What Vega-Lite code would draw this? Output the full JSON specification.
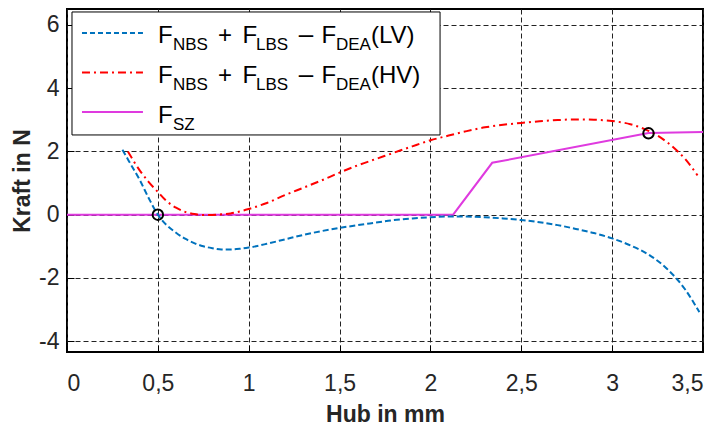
{
  "$schema": "https://vega.github.io/schema/vega-lite/v6.json",
  "width": 636,
  "height": 343,
  "autosize": "none",
  "padding": {"left": 67, "top": 9, "right": 21, "bottom": 76},
  "background": "white",
  "config": {
    "view": {"stroke": "black", "strokeWidth": 2},
    "font": "Liberation Sans",
    "axis": {
      "domain": false,
      "grid": true,
      "gridColor": "#222222",
      "gridDash": [5, 3],
      "gridWidth": 1,
      "gridOpacity": 1,
      "ticks": true,
      "tickSize": -7,
      "tickColor": "black",
      "tickWidth": 1,
      "labelFont": "Liberation Sans",
      "labelFontSize": 23,
      "labelColor": "#262626",
      "titleFont": "Liberation Sans",
      "titleFontSize": 23,
      "titleFontWeight": "bold",
      "titleColor": "#262626"
    }
  },
  "datasets": {
    "curves": [
      {"hub": 0.305, "kraft": 2.05, "series": "LV"},
      {"hub": 0.35, "kraft": 1.6, "series": "LV"},
      {"hub": 0.4, "kraft": 1.1, "series": "LV"},
      {"hub": 0.45, "kraft": 0.52, "series": "LV"},
      {"hub": 0.5, "kraft": 0.0, "series": "LV"},
      {"hub": 0.55, "kraft": -0.34, "series": "LV"},
      {"hub": 0.6, "kraft": -0.57, "series": "LV"},
      {"hub": 0.65, "kraft": -0.76, "series": "LV"},
      {"hub": 0.7, "kraft": -0.9, "series": "LV"},
      {"hub": 0.75, "kraft": -1.0, "series": "LV"},
      {"hub": 0.8, "kraft": -1.06, "series": "LV"},
      {"hub": 0.85, "kraft": -1.1, "series": "LV"},
      {"hub": 0.9, "kraft": -1.1, "series": "LV"},
      {"hub": 0.95, "kraft": -1.08, "series": "LV"},
      {"hub": 1.0, "kraft": -1.04, "series": "LV"},
      {"hub": 1.1, "kraft": -0.92, "series": "LV"},
      {"hub": 1.2, "kraft": -0.78, "series": "LV"},
      {"hub": 1.3, "kraft": -0.64, "series": "LV"},
      {"hub": 1.4, "kraft": -0.52, "series": "LV"},
      {"hub": 1.5, "kraft": -0.42, "series": "LV"},
      {"hub": 1.6, "kraft": -0.33, "series": "LV"},
      {"hub": 1.7, "kraft": -0.25, "series": "LV"},
      {"hub": 1.8, "kraft": -0.17, "series": "LV"},
      {"hub": 1.9, "kraft": -0.12, "series": "LV"},
      {"hub": 2.0, "kraft": -0.08, "series": "LV"},
      {"hub": 2.1, "kraft": -0.06, "series": "LV"},
      {"hub": 2.2, "kraft": -0.06, "series": "LV"},
      {"hub": 2.3, "kraft": -0.08, "series": "LV"},
      {"hub": 2.4, "kraft": -0.12, "series": "LV"},
      {"hub": 2.5, "kraft": -0.17, "series": "LV"},
      {"hub": 2.6, "kraft": -0.24, "series": "LV"},
      {"hub": 2.7, "kraft": -0.33, "series": "LV"},
      {"hub": 2.8, "kraft": -0.45, "series": "LV"},
      {"hub": 2.9, "kraft": -0.58, "series": "LV"},
      {"hub": 3.0, "kraft": -0.75, "series": "LV"},
      {"hub": 3.1, "kraft": -0.97, "series": "LV"},
      {"hub": 3.2, "kraft": -1.26, "series": "LV"},
      {"hub": 3.3, "kraft": -1.7, "series": "LV"},
      {"hub": 3.4, "kraft": -2.35, "series": "LV"},
      {"hub": 3.48, "kraft": -3.08, "series": "LV"},
      {"hub": 0.335, "kraft": 2.0, "series": "HV"},
      {"hub": 0.4, "kraft": 1.4, "series": "HV"},
      {"hub": 0.45, "kraft": 1.03, "series": "HV"},
      {"hub": 0.5, "kraft": 0.72, "series": "HV"},
      {"hub": 0.55, "kraft": 0.42, "series": "HV"},
      {"hub": 0.6, "kraft": 0.22, "series": "HV"},
      {"hub": 0.65, "kraft": 0.09, "series": "HV"},
      {"hub": 0.7, "kraft": 0.02, "series": "HV"},
      {"hub": 0.75, "kraft": -0.01, "series": "HV"},
      {"hub": 0.8, "kraft": -0.01, "series": "HV"},
      {"hub": 0.85, "kraft": 0.01, "series": "HV"},
      {"hub": 0.9, "kraft": 0.04, "series": "HV"},
      {"hub": 0.95, "kraft": 0.1, "series": "HV"},
      {"hub": 1.0, "kraft": 0.18, "series": "HV"},
      {"hub": 1.1, "kraft": 0.37, "series": "HV"},
      {"hub": 1.2, "kraft": 0.62, "series": "HV"},
      {"hub": 1.3, "kraft": 0.85, "series": "HV"},
      {"hub": 1.4, "kraft": 1.08, "series": "HV"},
      {"hub": 1.5, "kraft": 1.33, "series": "HV"},
      {"hub": 1.6, "kraft": 1.56, "series": "HV"},
      {"hub": 1.7, "kraft": 1.76, "series": "HV"},
      {"hub": 1.8, "kraft": 1.96, "series": "HV"},
      {"hub": 1.9, "kraft": 2.16, "series": "HV"},
      {"hub": 2.0, "kraft": 2.35, "series": "HV"},
      {"hub": 2.1, "kraft": 2.5, "series": "HV"},
      {"hub": 2.2, "kraft": 2.64, "series": "HV"},
      {"hub": 2.3, "kraft": 2.76, "series": "HV"},
      {"hub": 2.4, "kraft": 2.84, "series": "HV"},
      {"hub": 2.5, "kraft": 2.9, "series": "HV"},
      {"hub": 2.6, "kraft": 2.95, "series": "HV"},
      {"hub": 2.7, "kraft": 2.99, "series": "HV"},
      {"hub": 2.8, "kraft": 3.01, "series": "HV"},
      {"hub": 2.9, "kraft": 3.0, "series": "HV"},
      {"hub": 3.0, "kraft": 2.96, "series": "HV"},
      {"hub": 3.1, "kraft": 2.86, "series": "HV"},
      {"hub": 3.2, "kraft": 2.65, "series": "HV"},
      {"hub": 3.25, "kraft": 2.5, "series": "HV"},
      {"hub": 3.3, "kraft": 2.3, "series": "HV"},
      {"hub": 3.35, "kraft": 2.06, "series": "HV"},
      {"hub": 3.4, "kraft": 1.77, "series": "HV"},
      {"hub": 3.47, "kraft": 1.24, "series": "HV"},
      {"hub": 0.0, "kraft": 0.0, "series": "SZ"},
      {"hub": 2.125, "kraft": 0.0, "series": "SZ"},
      {"hub": 2.34, "kraft": 1.64, "series": "SZ"},
      {"hub": 3.2, "kraft": 2.58, "series": "SZ"},
      {"hub": 3.5, "kraft": 2.61, "series": "SZ"}
    ],
    "markers": [{"hub": 0.5, "kraft": 0.0}, {"hub": 3.2, "kraft": 2.57}]
  },
  "layer": [
    {
      "data": {"name": "curves"},
      "transform": [{"filter": "datum.series === 'SZ'"}],
      "mark": {"type": "line", "color": "#DF3ADF", "strokeWidth": 2},
      "encoding": {
        "x": {
          "field": "hub", "type": "quantitative",
          "scale": {"domain": [0, 3.5], "nice": false, "zero": false},
          "axis": {
            "title": "Hub in mm",
            "values": [0, 0.5, 1, 1.5, 2, 2.5, 3, 3.5],
            "labelExpr": "replace(toString(datum.value), '.', ',')",
            "labelPadding": 27,
            "titlePadding": 8
          }
        },
        "y": {
          "field": "kraft", "type": "quantitative",
          "scale": {"domain": [-4.34, 6.5], "nice": false, "zero": false},
          "axis": {
            "title": "Kraft in N",
            "values": [-4, -2, 0, 2, 4, 6],
            "labelExpr": "toString(datum.value)",
            "labelPadding": 15,
            "titlePadding": 4
          }
        }
      }
    },
    {
      "data": {"name": "curves"},
      "transform": [{"filter": "datum.series === 'LV'"}],
      "mark": {"type": "line", "color": "#0072BD", "strokeWidth": 2, "strokeDash": [6, 3], "interpolate": "monotone"},
      "encoding": {
        "x": {"field": "hub", "type": "quantitative"},
        "y": {"field": "kraft", "type": "quantitative"}
      }
    },
    {
      "data": {"name": "curves"},
      "transform": [{"filter": "datum.series === 'HV'"}],
      "mark": {"type": "line", "color": "#FF0000", "strokeWidth": 2, "strokeDash": [8, 4, 2, 4], "interpolate": "monotone"},
      "encoding": {
        "x": {"field": "hub", "type": "quantitative"},
        "y": {"field": "kraft", "type": "quantitative"}
      }
    },
    {
      "data": {"name": "markers"},
      "mark": {"type": "point", "shape": "circle", "filled": false, "color": "black", "strokeWidth": 2, "size": 110, "opacity": 1},
      "encoding": {
        "x": {"field": "hub", "type": "quantitative"},
        "y": {"field": "kraft", "type": "quantitative"}
      }
    },
    {
      "data": {"values": [{"item": "legend box"}]},
      "mark": {"type": "rect", "fill": "white", "stroke": "black", "strokeWidth": 1},
      "encoding": {
        "x": {"datum": 0.0275}, "x2": {"datum": 2.053},
        "y": {"datum": 6.406}, "y2": {"datum": 2.519}
      }
    },
    {
      "data": {"values": [{"item": "LV symbol"}]},
      "mark": {"type": "rule", "color": "#0072BD", "strokeWidth": 2, "strokeDash": [5, 3]},
      "encoding": {"x": {"datum": 0.0825}, "x2": {"datum": 0.418}, "y": {"datum": 5.743}}
    },
    {
      "data": {"values": [{"item": "HV symbol"}]},
      "mark": {"type": "rule", "color": "#FF0000", "strokeWidth": 2, "strokeDash": [8, 4, 2, 4]},
      "encoding": {"x": {"datum": 0.0825}, "x2": {"datum": 0.418}, "y": {"datum": 4.494}}
    },
    {
      "data": {"values": [{"item": "SZ symbol"}]},
      "mark": {"type": "rule", "color": "#DF3ADF", "strokeWidth": 2},
      "encoding": {"x": {"datum": 0.0825}, "x2": {"datum": 0.418}, "y": {"datum": 3.246}}
    },
    {
      "data": {"values": [{"t": "F"}]},
      "mark": {"type": "text", "fontSize": 24, "align": "left", "baseline": "alphabetic", "color": "black"},
      "encoding": {"text": {"field": "t"}, "x": {"datum": 0.501}, "y": {"datum": 5.417}}
    },
    {
      "data": {"values": [{"t": "NBS"}]},
      "mark": {"type": "text", "fontSize": 17, "align": "left", "baseline": "alphabetic", "color": "black"},
      "encoding": {"text": {"field": "t"}, "x": {"datum": 0.583}, "y": {"datum": 5.205}}
    },
    {
      "data": {"values": [{"t": "+"}]},
      "mark": {"type": "text", "fontSize": 24, "align": "center", "baseline": "alphabetic", "color": "black"},
      "encoding": {"text": {"field": "t"}, "x": {"datum": 0.87}, "y": {"datum": 5.417}}
    },
    {
      "data": {"values": [{"t": "F"}]},
      "mark": {"type": "text", "fontSize": 24, "align": "left", "baseline": "alphabetic", "color": "black"},
      "encoding": {"text": {"field": "t"}, "x": {"datum": 0.966}, "y": {"datum": 5.417}}
    },
    {
      "data": {"values": [{"t": "LBS"}]},
      "mark": {"type": "text", "fontSize": 17, "align": "left", "baseline": "alphabetic", "color": "black"},
      "encoding": {"text": {"field": "t"}, "x": {"datum": 1.04}, "y": {"datum": 5.205}}
    },
    {
      "data": {"values": [{"t": "–"}]},
      "mark": {"type": "text", "fontSize": 26, "align": "center", "baseline": "alphabetic", "color": "black"},
      "encoding": {"text": {"field": "t"}, "x": {"datum": 1.315}, "y": {"datum": 5.417}}
    },
    {
      "data": {"values": [{"t": "F"}]},
      "mark": {"type": "text", "fontSize": 24, "align": "left", "baseline": "alphabetic", "color": "black"},
      "encoding": {"text": {"field": "t"}, "x": {"datum": 1.401}, "y": {"datum": 5.417}}
    },
    {
      "data": {"values": [{"t": "DEA"}]},
      "mark": {"type": "text", "fontSize": 17, "align": "left", "baseline": "alphabetic", "color": "black"},
      "encoding": {"text": {"field": "t"}, "x": {"datum": 1.48}, "y": {"datum": 5.205}}
    },
    {
      "data": {"values": [{"t": "(LV)"}]},
      "mark": {"type": "text", "fontSize": 24, "align": "left", "baseline": "alphabetic", "color": "black"},
      "encoding": {"text": {"field": "t"}, "x": {"datum": 1.673}, "y": {"datum": 5.417}}
    },
    {
      "data": {"values": [{"t": "F"}]},
      "mark": {"type": "text", "fontSize": 24, "align": "left", "baseline": "alphabetic", "color": "black"},
      "encoding": {"text": {"field": "t"}, "x": {"datum": 0.501}, "y": {"datum": 4.153}}
    },
    {
      "data": {"values": [{"t": "NBS"}]},
      "mark": {"type": "text", "fontSize": 17, "align": "left", "baseline": "alphabetic", "color": "black"},
      "encoding": {"text": {"field": "t"}, "x": {"datum": 0.583}, "y": {"datum": 3.941}}
    },
    {
      "data": {"values": [{"t": "+"}]},
      "mark": {"type": "text", "fontSize": 24, "align": "center", "baseline": "alphabetic", "color": "black"},
      "encoding": {"text": {"field": "t"}, "x": {"datum": 0.87}, "y": {"datum": 4.153}}
    },
    {
      "data": {"values": [{"t": "F"}]},
      "mark": {"type": "text", "fontSize": 24, "align": "left", "baseline": "alphabetic", "color": "black"},
      "encoding": {"text": {"field": "t"}, "x": {"datum": 0.966}, "y": {"datum": 4.153}}
    },
    {
      "data": {"values": [{"t": "LBS"}]},
      "mark": {"type": "text", "fontSize": 17, "align": "left", "baseline": "alphabetic", "color": "black"},
      "encoding": {"text": {"field": "t"}, "x": {"datum": 1.04}, "y": {"datum": 3.941}}
    },
    {
      "data": {"values": [{"t": "–"}]},
      "mark": {"type": "text", "fontSize": 26, "align": "center", "baseline": "alphabetic", "color": "black"},
      "encoding": {"text": {"field": "t"}, "x": {"datum": 1.315}, "y": {"datum": 4.153}}
    },
    {
      "data": {"values": [{"t": "F"}]},
      "mark": {"type": "text", "fontSize": 24, "align": "left", "baseline": "alphabetic", "color": "black"},
      "encoding": {"text": {"field": "t"}, "x": {"datum": 1.401}, "y": {"datum": 4.153}}
    },
    {
      "data": {"values": [{"t": "DEA"}]},
      "mark": {"type": "text", "fontSize": 17, "align": "left", "baseline": "alphabetic", "color": "black"},
      "encoding": {"text": {"field": "t"}, "x": {"datum": 1.48}, "y": {"datum": 3.941}}
    },
    {
      "data": {"values": [{"t": "(HV)"}]},
      "mark": {"type": "text", "fontSize": 24, "align": "left", "baseline": "alphabetic", "color": "black"},
      "encoding": {"text": {"field": "t"}, "x": {"datum": 1.673}, "y": {"datum": 4.153}}
    },
    {
      "data": {"values": [{"t": "F"}]},
      "mark": {"type": "text", "fontSize": 24, "align": "left", "baseline": "alphabetic", "color": "black"},
      "encoding": {"text": {"field": "t"}, "x": {"datum": 0.501}, "y": {"datum": 2.882}}
    },
    {
      "data": {"values": [{"t": "SZ"}]},
      "mark": {"type": "text", "fontSize": 17, "align": "left", "baseline": "alphabetic", "color": "black"},
      "encoding": {"text": {"field": "t"}, "x": {"datum": 0.583}, "y": {"datum": 2.677}}
    }
  ]
}
